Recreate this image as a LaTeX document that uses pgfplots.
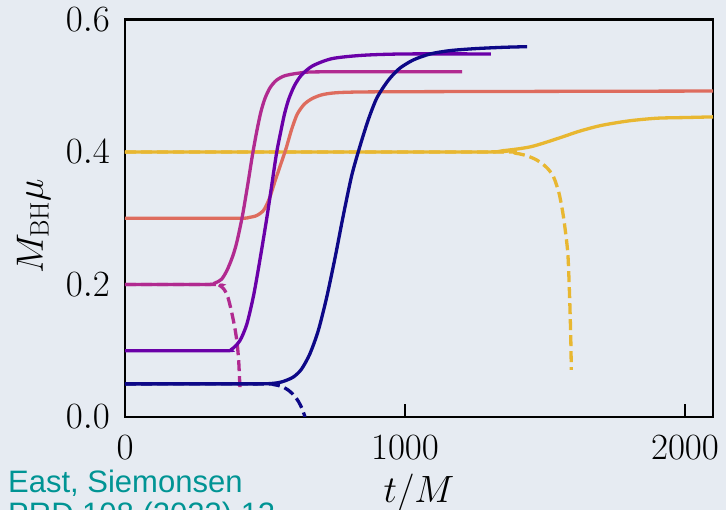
\RequirePackage{fix-cm}
\documentclass[border=0pt]{standalone}
\usepackage{fontspec}
\usepackage{pgfplots}
\pgfplotsset{compat=1.18}
\newfontfamily\labelsans{Liberation Sans}
\definecolor{bgc}{HTML}{E6EBF2}
\definecolor{cblue}{HTML}{0D0887}
\definecolor{cpurple}{HTML}{6A00A8}
\definecolor{cmag}{HTML}{B12A90}
\definecolor{corange}{HTML}{DE6C5E}
\definecolor{cyellow}{HTML}{E8B731}
\definecolor{cteal}{RGB}{0,148,148}
\begin{document}
\begin{tikzpicture}
\useasboundingbox (0,0) rectangle (726pt,510pt);
\clip (0,0) rectangle (726pt,510pt);
\fill[bgc] (0,0) rectangle (726pt,510pt);
\begin{axis}[
  at={(125pt,93pt)}, anchor=south west,
  scale only axis, width=588pt, height=397.5pt,
  xmin=0, xmax=2100, ymin=0, ymax=0.6,
  xtick={0,1000,2000}, xticklabels={$0$,$1000$,$2000$},
  ytick={0,0.2,0.4,0.6}, yticklabels={$0.0$,$0.2$,$0.4$,$0.6$},
  xtick pos=left, ytick pos=left,
  tick align=inside, major tick length=13pt,
  major tick style={line width=1.5pt, black},
  axis line style={line width=2.5pt, black},
  ticklabel style={font=\fontsize{37}{44}\selectfont},
  xticklabel style={anchor=north, inner sep=0pt, yshift=-18pt},
  yticklabel style={anchor=east, inner sep=0pt, xshift=-15pt},
  every axis x label/.style={at={(axis description cs:0.5,-0.216)}, anchor=base, font=\fontsize{38}{45}\selectfont},
  every axis y label/.style={at={(axis description cs:-0.1395,0.480)}, rotate=90, anchor=base, font=\fontsize{38}{45}\selectfont},
  xlabel={$t/M$}, ylabel={$M_{\rm BH}\mu$},
  every axis plot/.append style={line width=3.3pt, smooth, tension=0.45},
]
% dashed curves
\addplot[cblue, dash pattern=on 11pt off 5pt] coordinates {(0,0.05)(480,0.05)(530,0.049)(560,0.046)(585,0.04)(605,0.032)(620,0.023)(632,0.013)(643,0.0)};
\addplot[cmag, dash pattern=on 11pt off 5pt] coordinates {(0,0.2)(320,0.2)(340,0.198)(355,0.192)(368,0.18)(380,0.16)(392,0.135)(400,0.113)(406,0.085)(411,0.04)};
\addplot[cyellow, dash pattern=on 11pt off 5pt] coordinates {(0,0.4)(1300,0.4)(1380,0.399)(1430,0.395)(1470,0.388)(1505,0.377)(1530,0.363)(1550,0.338)(1563,0.31)(1573,0.28)(1582,0.244)(1588,0.18)(1592,0.12)(1594,0.071)};
% solid curves
\addplot[cyellow] coordinates {(0,0.4)(1250,0.4)(1350,0.402)(1450,0.408)(1550,0.421)(1620,0.431)(1700,0.440)(1800,0.447)(1900,0.451)(2000,0.452)(2100,0.453)};
\addplot[corange] coordinates {(0,0.3)(400,0.3)(440,0.301)(470,0.304)(495,0.312)(515,0.329)(535,0.355)(555,0.38)(575,0.405)(595,0.434)(615,0.457)(640,0.472)(670,0.481)(710,0.487)(780,0.49)(1000,0.491)(2100,0.492)};
\addplot[cmag] coordinates {(0,0.2)(290,0.2)(320,0.202)(345,0.208)(365,0.222)(385,0.243)(400,0.265)(420,0.305)(440,0.355)(455,0.395)(470,0.43)(485,0.46)(500,0.481)(518,0.497)(540,0.508)(570,0.515)(620,0.519)(700,0.521)(1204,0.521)};
\addplot[cpurple] coordinates {(0,0.1)(350,0.1)(380,0.102)(410,0.115)(435,0.14)(460,0.185)(485,0.245)(510,0.31)(540,0.395)(555,0.428)(570,0.458)(585,0.48)(605,0.5)(630,0.516)(670,0.53)(740,0.541)(850,0.546)(1000,0.548)(1307,0.548)};
\addplot[cblue] coordinates {(0,0.05)(450,0.05)(520,0.0505)(560,0.053)(600,0.06)(630,0.072)(660,0.095)(690,0.13)(720,0.18)(750,0.24)(780,0.305)(810,0.365)(840,0.41)(870,0.45)(900,0.482)(940,0.508)(980,0.526)(1030,0.539)(1090,0.548)(1160,0.553)(1250,0.556)(1350,0.558)(1436,0.559)};
\end{axis}
\node[anchor=base west, inner sep=0pt, text=cteal, font=\labelsans\fontsize{31}{36}\selectfont] at (8pt,17pt) {East, Siemonsen};
\node[anchor=base west, inner sep=0pt, text=cteal, font=\labelsans\fontsize{31}{36}\selectfont] at (8pt,-15pt) {PRD 108 (2023) 12};
\end{tikzpicture}
\end{document}
